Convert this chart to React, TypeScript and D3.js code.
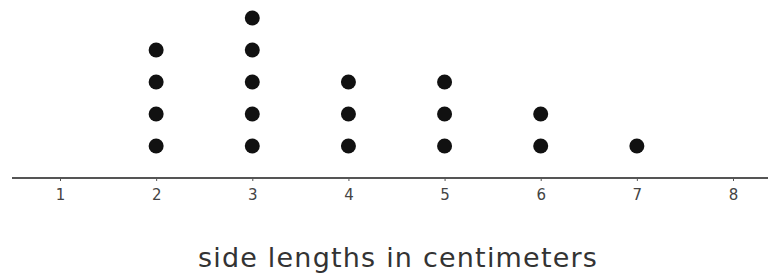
import { useEffect, useRef } from "react"
import * as d3 from "d3"

// value on the number line, and how many dots sit above it
const values = [2, 3, 4, 5, 6, 7]
const counts = [4, 5, 3, 3, 2, 1]
const ticks = [1, 2, 3, 4, 5, 6, 7, 8]
const axisTitle = "side lengths in centimeters"

export default function App() {
    const ref = useRef<SVGSVGElement>(null)
    const width = 768
    const height = 273

    useEffect(() => {
        const svg = d3.select(ref.current)
        svg.selectAll("*").remove()

        const x = d3.scaleLinear().domain([1, 8]).range([60, 733])
        const y = d3.scaleLinear().domain([0, 5]).range([178, 18])

        // axis line
        svg.append("line")
            .attr("x1", 12).attr("x2", width)
            .attr("y1", y(0)).attr("y2", y(0))
            .attr("stroke", "#555")
            .attr("stroke-width", 2)

        const axis = d3.axisBottom(x)
            .tickValues(ticks)
            .tickSize(3)
            .tickPadding(8)
            .tickFormat(d3.format("d"))

        const g = svg.append("g")
            .attr("transform", `translate(0,${y(0)})`)
            .call(axis)
        g.select(".domain").remove()
        g.selectAll(".tick line").attr("stroke", "#555")
        g.selectAll(".tick text")
            .attr("fill", "#444")
            .attr("font-size", 15)
            .attr("font-family", "'DejaVu Sans', sans-serif")

        // dots
        const dots = values.flatMap((v, i) => d3.range(1, counts[i] + 1).map(k => ({ v, k })))
        svg.append("g")
            .selectAll("circle")
            .data(dots)
            .enter().append("circle")
            .attr("cx", d => x(d.v))
            .attr("cy", d => y(d.k))
            .attr("r", 7.5)
            .attr("fill", "#111")

        svg.append("text")
            .attr("x", 398)
            .attr("y", 267)
            .attr("text-anchor", "middle")
            .attr("font-size", 27)
            .attr("letter-spacing", 1.2)
            .attr("font-family", "'DejaVu Sans', sans-serif")
            .attr("fill", "#333")
            .text(axisTitle)
    }, [])

    return (
        <svg ref={ref} width={width} height={height}
            style={{ position: "absolute", left: 0, top: 0, background: "#fff" }} />
    )
}
